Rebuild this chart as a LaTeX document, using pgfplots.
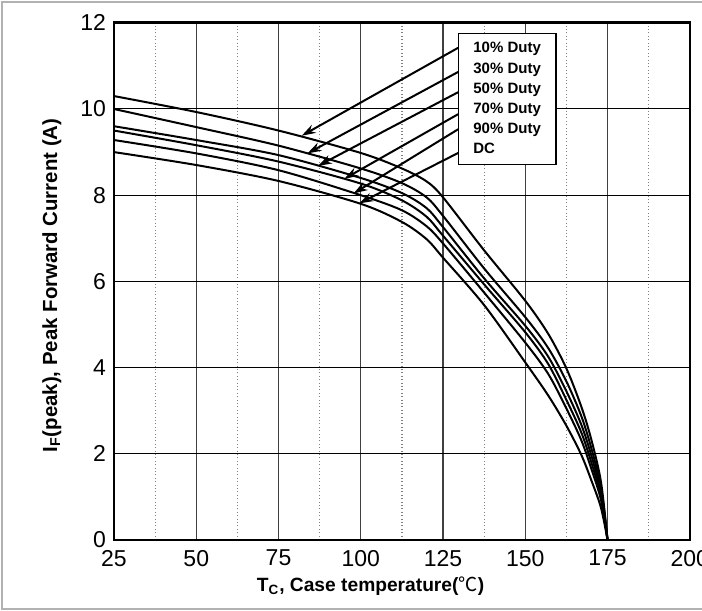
\documentclass[border=0pt]{standalone}
\usepackage{pgfplots}
\pgfplotsset{compat=1.18}
\usepackage{fontspec}
\setmainfont{Liberation Sans}
\newfontfamily\cjk{Noto Sans CJK SC}
\usetikzlibrary{arrows.meta}

\begin{document}
\begin{tikzpicture}
\begin{axis}[
  scale only axis, width=287.9bp, height=258.6bp,
  xmin=25, xmax=200, ymin=0, ymax=12,
  xtick={25,50,...,200}, ytick={0,2,...,12},
  minor xtick={37.5,62.5,...,187.5},
  xmajorgrids, xminorgrids, ymajorgrids,
  major x grid style={black!75, line width=0.6bp},
  minor x grid style={gray, line width=0.6bp, dash pattern=on 0.5bp off 1.2bp},
  major y grid style={black, line width=0.5bp},
  major tick length=0pt, minor tick length=0pt,
  axis line style={black, line width=1.3bp},
  tick label style={font=\fontsize{11.5bp}{12bp}\selectfont},
  xticklabel style={yshift=-1.5bp},
  yticklabel style={xshift=-0.5bp},
  /pgf/number format/assume math mode=true,
  every axis x label/.style={at={(axis description cs:0.4455,-0.089)}, anchor=center},
  every axis y label/.style={at={(axis description cs:-0.108,0.492)}, rotate=90, anchor=center},
  xlabel style={font=\fontsize{9.6bp}{12bp}\selectfont\bfseries},
  ylabel style={font=\fontsize{10.2bp}{12bp}\selectfont\bfseries},
  xlabel={T\textsubscript{C}, Case temperature({\cjk\mdseries ℃})},
  ylabel={I\textsubscript{F}(peak), Peak Forward Current (A)},
  clip=true,
]
% 10% Duty
\addplot[black, line width=1bp, smooth, tension=0.5] coordinates {
 (25,10.30) (50,9.93) (75,9.50) (100,8.98) (112.5,8.62) (120,8.32) (125,7.95) (137.5,6.72) (150,5.55) (157,4.78) (162.5,3.98) (167,3.10) (170,2.35) (173,1.35) (175,0)};
% 30% Duty
\addplot[black, line width=1bp, smooth, tension=0.5] coordinates {
 (25,10.00) (50,9.58) (75,9.15) (100,8.62) (112.5,8.28) (120,7.95) (125,7.52) (137.5,6.30) (150,5.17) (157,4.45) (162.5,3.68) (167,2.88) (170,2.15) (173,1.22) (175,0)};
% 50% Duty
\addplot[black, line width=1bp, smooth, tension=0.5] coordinates {
 (25,9.60) (50,9.28) (75,8.93) (100,8.40) (112.5,8.05) (120,7.70) (125,7.26) (137.5,6.07) (150,4.97) (157,4.25) (162.5,3.45) (167,2.68) (170,1.98) (173,1.12) (175,0)};
% 70% Duty
\addplot[black, line width=1bp, smooth, tension=0.5] coordinates {
 (25,9.50) (50,9.16) (75,8.78) (100,8.27) (112.5,7.88) (120,7.50) (125,7.06) (137.5,5.93) (150,4.82) (157,4.08) (162.5,3.25) (167,2.50) (170,1.82) (173,1.02) (175,0)};
% 90% Duty
\addplot[black, line width=1bp, smooth, tension=0.5] coordinates {
 (25,9.28) (50,8.97) (75,8.58) (100,8.00) (112.5,7.65) (120,7.28) (125,6.88) (137.5,5.74) (150,4.58) (157,3.85) (162.5,3.05) (167,2.32) (170,1.67) (173,0.93) (175,0)};
% DC
\addplot[black, line width=1bp, smooth, tension=0.5] coordinates {
 (25,9.00) (50,8.70) (75,8.33) (100,7.80) (112.5,7.38) (120,6.98) (125,6.55) (137.5,5.45) (150,4.12) (157,3.35) (162.5,2.65) (167,1.98) (170,1.40) (173,0.75) (175,0)};

% arrows
\addplot[black, line width=1bp, -{Stealth[length=7bp,width=4.5bp]}] coordinates {(129.6,11.42) (82.05,9.38)};
\addplot[black, line width=1bp, -{Stealth[length=7bp,width=4.5bp]}] coordinates {(129.6,10.86) (83.8,8.97)};
\addplot[black, line width=1bp, -{Stealth[length=7bp,width=4.5bp]}] coordinates {(129.6,10.39) (87.0,8.68)};
\addplot[black, line width=1bp, -{Stealth[length=7bp,width=4.5bp]}] coordinates {(129.6,9.88) (95.0,8.38)};
\addplot[black, line width=1bp, -{Stealth[length=7bp,width=4.5bp]}] coordinates {(129.6,9.53) (97.8,8.04)};
\addplot[black, line width=1bp, -{Stealth[length=7bp,width=4.5bp]}] coordinates {(129.6,8.98) (99.5,7.81)};

% legend box
\draw[black, line width=0.6bp, fill=white] (axis cs:129.6,11.76) rectangle (axis cs:159.35,8.72);
\begin{scope}[every node/.style={anchor=base west, inner sep=0pt, font=\fontsize{7.5bp}{9bp}\selectfont\bfseries}]
\node at (axis cs:134.1,11.30) {10\% Duty};
\node at (axis cs:134.1,10.83) {30\% Duty};
\node at (axis cs:134.1,10.37) {50\% Duty};
\node at (axis cs:134.1,9.90) {70\% Duty};
\node at (axis cs:134.1,9.43) {90\% Duty};
\node at (axis cs:134.1,8.96) {DC};
\end{scope}
\end{axis}
% outer frame and page
\draw[gray!60, line width=1bp] (296bp,-34.25bp) -- (-55.75bp,-34.25bp) -- (-55.75bp,268.75bp) -- (296bp,268.75bp);
\pgfresetboundingbox
\useasboundingbox (-57bp,-35.5bp) rectangle (294bp,270bp);
\end{tikzpicture}
\end{document}
